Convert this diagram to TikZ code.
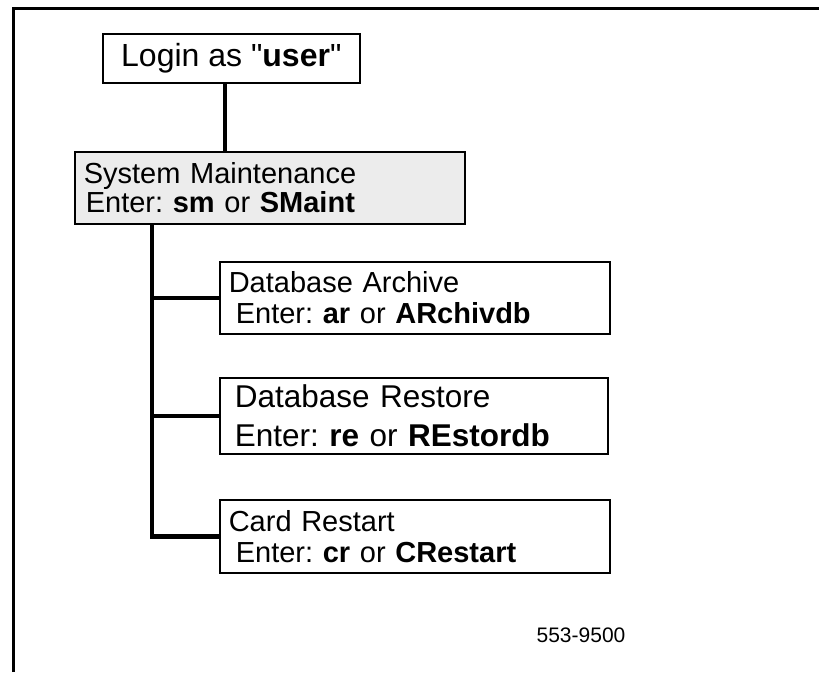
\documentclass[tikz,border=0pt]{standalone}
\usepackage{fontspec}
\setmainfont{Liberation Sans}
\frenchspacing
\tikzset{
	box/.style={draw, line width=1.6pt, anchor=north west, align=left, inner xsep=9pt, inner ysep=0pt},
	link/.style={line width=4.5pt},
}
\newcommand{\entry}[2]{Enter: \textbf{#1} or \textbf{#2}}

\begin{document}
\begin{tikzpicture}[x=1pt, y=-1pt]
    \useasboundingbox (0, 0) rectangle (819, 672);
    \draw[line width=3pt](13.5, 672)--(13.5, 8)--(819, 8);
    \node[box, minimum width=257pt, minimum height=49pt, align=center, font=\fontsize{32}{36}\selectfont](login) at (102, 33) {Login as \textquotedbl\textbf{user}\textquotedbl};
    \node[box, fill=gray!15, minimum width=390pt, minimum height=72pt, text width=372pt, font=\fontsize{29}{29}\selectfont](sm) at (74, 151) {System Maintenance\\\hspace*{2pt}\entry{sm}{SMaint}};
    \node[box, minimum width=390pt, minimum height=72pt, text width=372pt, font=\fontsize{29}{31}\selectfont](da) at (219, 261) {Database Archive\\\hspace*{7pt}\entry{ar}{ARchivdb}};
    \node[box, inner xsep=15pt, minimum width=388pt, minimum height=76pt, text width=358pt, font=\fontsize{31.5}{39}\selectfont](dr) at (219, 377) {Database Restore\\\entry{re}{REstordb}};
    \node[box, minimum width=390pt, minimum height=73pt, text width=372pt, font=\fontsize{29}{31}\selectfont](cr) at (219, 499) {Card Restart\\\hspace*{7pt}\entry{cr}{CRestart}};
    \node[anchor=base, font=\fontsize{21}{24}\selectfont](num) at (581, 642) {553-9500};
    \coordinate (stem) at (225, 0);
    \coordinate (trunk) at (152, 0);
    \draw[link](login.south -| stem)--(sm.north -| stem);
    \draw[link](sm.south -| trunk) |- (cr.west);
    \draw[link](da.west -| trunk)--(da.west);
    \draw[link](dr.west -| trunk)--(dr.west);
\end{tikzpicture}
\end{document}
